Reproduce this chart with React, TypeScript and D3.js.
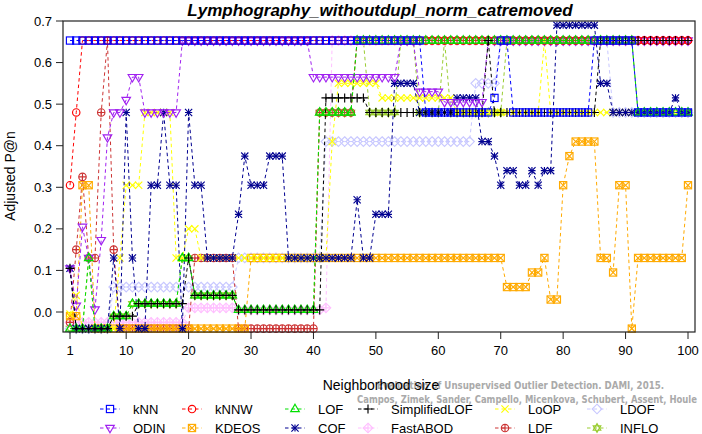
import React from 'react';
import * as d3 from 'd3';

// neighborhood sizes on the x axis
const ks = d3.range(1, 101);
const xTicks = [1, 10, 20, 30, 40, 50, 60, 70, 80, 90, 100];
const yTicks = [0, 0.1, 0.2, 0.3, 0.4, 0.5, 0.6, 0.7];

// Adjusted P@n per method, k = 1..100
const kNN = [
  0.653, 0.653, 0.653, 0.653, 0.653, 0.653, 0.653, 0.653, 0.653, 0.653,
  0.653, 0.653, 0.653, 0.653, 0.653, 0.653, 0.653, 0.653, 0.653, 0.653,
  0.653, 0.653, 0.653, 0.653, 0.653, 0.653, 0.653, 0.653, 0.653, 0.653,
  0.653, 0.653, 0.653, 0.653, 0.653, 0.653, 0.653, 0.653, 0.653, 0.653,
  0.653, 0.653, 0.653, 0.653, 0.653, 0.653, 0.653, 0.653, 0.653, 0.653,
  0.653, 0.653, 0.653, 0.653, 0.653, 0.653, 0.653, 0.48, 0.48, 0.48,
  0.48, 0.48, 0.48, 0.48, 0.48, 0.48, 0.48, 0.48, 0.515, 0.653,
  0.653, 0.48, 0.48, 0.48, 0.48, 0.48, 0.48, 0.48, 0.48, 0.48,
  0.48, 0.48, 0.48, 0.48, 0.653, 0.653, 0.653, 0.653, 0.653, 0.653,
  0.653, 0.48, 0.48, 0.48, 0.48, 0.48, 0.48, 0.48, 0.48, 0.48,
];
const kNNW = [
  0.305, 0.48, 0.653, 0.653, 0.653, 0.653, 0.653, 0.653, 0.653, 0.653,
  0.653, 0.653, 0.653, 0.653, 0.653, 0.653, 0.653, 0.653, 0.653, 0.653,
  0.653, 0.653, 0.653, 0.653, 0.653, 0.653, 0.653, 0.653, 0.653, 0.653,
  0.653, 0.653, 0.653, 0.653, 0.653, 0.653, 0.653, 0.653, 0.653, 0.653,
  0.653, 0.653, 0.653, 0.653, 0.653, 0.653, 0.653, 0.653, 0.653, 0.653,
  0.653, 0.653, 0.653, 0.653, 0.653, 0.653, 0.653, 0.653, 0.653, 0.653,
  0.653, 0.653, 0.653, 0.653, 0.653, 0.653, 0.653, 0.653, 0.653, 0.653,
  0.653, 0.653, 0.653, 0.653, 0.653, 0.653, 0.653, 0.653, 0.653, 0.653,
  0.653, 0.653, 0.653, 0.653, 0.653, 0.653, 0.653, 0.653, 0.653, 0.653,
  0.653, 0.653, 0.653, 0.653, 0.653, 0.653, 0.653, 0.653, 0.653, 0.653,
];
const LOF = [
  -0.04, -0.04, -0.04, 0.13, -0.04, -0.04, -0.04, -0.01, -0.01, -0.01,
  0.02, 0.02, 0.02, 0.02, 0.02, 0.02, 0.02, 0.02, 0.13, 0.13,
  0.04, 0.04, 0.04, 0.04, 0.04, 0.04, 0.04, 0.005, 0.005, 0.005,
  0.005, 0.005, 0.005, 0.005, 0.005, 0.005, 0.005, 0.005, 0.005, 0.005,
  0.48, 0.48, 0.48, 0.48, 0.48, 0.48, 0.653, 0.653, 0.653, 0.653,
  0.653, 0.653, 0.653, 0.653, 0.653, 0.653, 0.653, 0.653, 0.653, 0.653,
  0.653, 0.653, 0.653, 0.653, 0.653, 0.653, 0.653, 0.653, 0.653, 0.653,
  0.653, 0.653, 0.653, 0.653, 0.653, 0.653, 0.653, 0.653, 0.653, 0.653,
  0.653, 0.653, 0.653, 0.653, 0.653, 0.653, 0.653, 0.653, 0.653, 0.653,
  0.653, 0.48, 0.48, 0.48, 0.48, 0.48, 0.48, 0.48, 0.48, 0.48,
];
const SimplifiedLOF = [
  0.105, -0.04, -0.04, -0.04, -0.04, -0.04, -0.04, -0.01, -0.01, -0.01,
  -0.01, 0.02, 0.02, 0.02, 0.02, 0.02, 0.02, 0.02, 0.02, 0.13,
  0.04, 0.04, 0.04, 0.04, 0.04, 0.04, 0.04, 0.005, 0.005, 0.005,
  0.005, 0.005, 0.005, 0.005, 0.005, 0.005, 0.005, 0.005, 0.005, 0.005,
  0.005, 0.515, 0.515, 0.515, 0.515, 0.515, 0.515, 0.515, 0.48, 0.48,
  0.48, 0.48, 0.48, 0.48, 0.48, 0.48, 0.48, 0.48, 0.48, 0.48,
  0.48, 0.48, 0.48, 0.48, 0.48, 0.48, 0.48, 0.653, 0.48, 0.48,
  0.48, 0.48, 0.48, 0.48, 0.48, 0.48, 0.48, 0.48, 0.48, 0.48,
  0.48, 0.48, 0.48, 0.48, 0.48, 0.653, 0.653, 0.653, 0.653, 0.653,
  0.653, 0.653, 0.653, 0.653, 0.653, 0.653, 0.653, 0.653, 0.653, 0.653,
];
const LoOP = [
  -0.005, 0.04, -0.04, -0.04, -0.04, -0.04, -0.04, -0.04, 0.13, 0.305,
  0.305, 0.305, 0.48, 0.48, 0.48, 0.48, 0.48, 0.13, 0.13, 0.2,
  0.2, 0.13, 0.13, 0.13, 0.13, 0.13, 0.13, 0.13, 0.13, 0.13,
  0.13, 0.13, 0.13, 0.13, 0.13, 0.13, 0.13, 0.13, 0.13, 0.13,
  0.13, 0.13, 0.41, 0.55, 0.55, 0.55, 0.55, 0.55, 0.55, 0.55,
  0.515, 0.515, 0.515, 0.515, 0.515, 0.515, 0.515, 0.515, 0.515, 0.515,
  0.515, 0.515, 0.48, 0.48, 0.48, 0.48, 0.48, 0.48, 0.48, 0.48,
  0.48, 0.48, 0.48, 0.48, 0.48, 0.48, 0.653, 0.48, 0.48, 0.48,
  0.48, 0.48, 0.48, 0.48, 0.48, 0.48, 0.48, 0.48, 0.48, 0.48,
  0.48, 0.48, 0.48, 0.48, 0.48, 0.48, 0.48, 0.48, 0.48, 0.48,
];
const LDOF = [
  -0.04, -0.04, -0.04, -0.04, -0.04, -0.04, -0.04, 0.06, 0.06, 0.06,
  0.06, 0.06, 0.06, 0.06, 0.06, 0.06, 0.06, 0.06, 0.06, 0.06,
  0.06, 0.06, 0.06, 0.06, 0.06, 0.06, 0.06, 0.13, 0.13, 0.13,
  0.13, 0.13, 0.13, 0.13, 0.13, 0.13, 0.13, 0.13, 0.13, 0.13,
  0.13, 0.41, 0.41, 0.41, 0.41, 0.41, 0.41, 0.41, 0.41, 0.41,
  0.41, 0.41, 0.41, 0.41, 0.41, 0.41, 0.41, 0.41, 0.41, 0.41,
  0.41, 0.41, 0.41, 0.41, 0.41, 0.55, 0.55, 0.55, 0.55, 0.653,
  0.653, 0.653, 0.653, 0.653, 0.653, 0.653, 0.653, 0.653, 0.653, 0.653,
  0.653, 0.653, 0.653, 0.653, 0.653, 0.653, 0.653, 0.48, 0.48, 0.48,
  0.48, 0.48, 0.48, 0.48, 0.48, 0.48, 0.48, 0.48, 0.48, 0.48,
];
const ODIN = [
  0.105, 0.015, 0.205, 0.13, 0.006, 0.173, 0.42, 0.48, 0.48, 0.51,
  0.565, 0.565, 0.48, 0.48, 0.48, 0.48, 0.48, 0.48, 0.653, 0.653,
  0.653, 0.653, 0.653, 0.653, 0.653, 0.653, 0.653, 0.653, 0.653, 0.653,
  0.653, 0.653, 0.653, 0.653, 0.653, 0.653, 0.653, 0.653, 0.653, 0.565,
  0.565, 0.565, 0.565, 0.565, 0.565, 0.565, 0.565, 0.565, 0.565, 0.565,
  0.565, 0.565, 0.565, 0.653, 0.653, 0.653, 0.53, 0.53, 0.53, 0.53,
  0.505, 0.505, 0.505, 0.505, 0.505, 0.505, 0.505, 0.653, 0.653, 0.653,
  0.653, 0.653, 0.653, 0.653, 0.653, 0.653, 0.653, 0.653, 0.653, 0.653,
  0.653, 0.653, 0.653, 0.653, 0.653, 0.653, 0.653, 0.653, 0.653, 0.653,
  0.653, 0.653, 0.653, 0.653, 0.653, 0.653, 0.653, 0.653, 0.653, 0.653,
];
const KDEOS = [
  -0.01, -0.01, 0.305, 0.305, -0.04, -0.04, -0.04, -0.04, -0.04, -0.04,
  -0.04, -0.04, -0.04, -0.04, -0.04, -0.04, -0.04, -0.04, -0.04, -0.04,
  -0.04, -0.04, -0.04, -0.04, -0.04, -0.04, -0.04, -0.04, -0.04, 0.13,
  0.13, 0.13, 0.13, 0.13, 0.13, 0.13, 0.13, 0.13, 0.13, 0.13,
  0.13, 0.13, 0.13, 0.13, 0.13, 0.13, 0.13, 0.13, 0.13, 0.13,
  0.13, 0.13, 0.13, 0.13, 0.13, 0.13, 0.13, 0.13, 0.13, 0.13,
  0.13, 0.13, 0.13, 0.13, 0.13, 0.13, 0.13, 0.13, 0.13, 0.13,
  0.06, 0.06, 0.06, 0.06, 0.095, 0.095, 0.13, 0.03, 0.03, 0.305,
  0.375, 0.41, 0.41, 0.41, 0.41, 0.13, 0.13, 0.095, 0.305, 0.305,
  -0.04, 0.13, 0.13, 0.13, 0.13, 0.13, 0.13, 0.13, 0.13, 0.305,
];
const COF = [
  0.105, -0.04, -0.04, -0.04, -0.04, -0.04, -0.04, 0.13, -0.04, 0.48,
  0.13, -0.04, -0.04, 0.305, 0.305, 0.48, 0.305, 0.305, -0.04, 0.48,
  0.305, 0.305, 0.13, 0.13, 0.13, 0.13, 0.13, 0.235, 0.375, 0.305,
  0.305, 0.305, 0.375, 0.375, 0.375, 0.13, 0.13, 0.13, 0.13, 0.13,
  0.13, 0.13, 0.13, 0.13, 0.13, 0.13, 0.27, 0.13, 0.13, 0.235,
  0.235, 0.235, 0.55, 0.55, 0.55, 0.55, 0.48, 0.48, 0.48, 0.48,
  0.48, 0.48, 0.515, 0.515, 0.515, 0.515, 0.41, 0.41, 0.375, 0.305,
  0.34, 0.34, 0.305, 0.305, 0.34, 0.305, 0.34, 0.34, 0.69, 0.69,
  0.69, 0.69, 0.69, 0.69, 0.69, 0.55, 0.55, 0.48, 0.48, 0.48,
  0.48, 0.48, 0.48, 0.48, 0.48, 0.48, 0.48, 0.515, 0.48, 0.48,
];
const FastABOD = [
  -0.025, -0.025, -0.025, -0.025, -0.025, -0.025, -0.025, -0.025, -0.025, -0.025,
  -0.025, -0.025, -0.025, -0.025, -0.025, -0.025, -0.025, -0.025, -0.025, 0.01,
  0.01, 0.01, 0.01, 0.01, 0.01, 0.01, 0.01, 0.005, 0.005, 0.005,
  0.005, 0.005, 0.005, 0.005, 0.005, 0.005, 0.005, 0.005, 0.005, 0.005,
  0.005, 0.01, 0.653, 0.653, 0.653, 0.653, 0.653, 0.653, 0.653, 0.653,
  0.653, 0.653, 0.653, 0.653, 0.653, 0.653, 0.653, 0.653, 0.653, 0.653,
  0.653, 0.653, 0.653, 0.653, 0.653, 0.653, 0.653, 0.653, 0.653, 0.653,
  0.653, 0.653, 0.653, 0.653, 0.653, 0.653, 0.653, 0.653, 0.653, 0.653,
  0.653, 0.653, 0.653, 0.653, 0.653, 0.653, 0.653, 0.653, 0.653, 0.653,
  0.653, 0.653, 0.653, 0.653, 0.653, 0.653, 0.653, 0.653, 0.653, 0.653,
];
const LDF = [
  -0.025, 0.15, 0.325, 0.13, 0.13, 0.48, 0.653, 0.15, -0.04, -0.04,
  -0.04, -0.04, -0.04, -0.04, -0.04, -0.04, -0.04, -0.04, -0.04, -0.04,
  0.13, 0.13, 0.13, 0.13, 0.13, 0.13, 0.13, -0.04, -0.04, -0.04,
  -0.04, -0.04, -0.04, -0.04, -0.04, -0.04, -0.04, -0.04, -0.04, -0.04,
  0.48, 0.48, 0.48, 0.48, 0.48, 0.48, 0.653, 0.653, 0.653, 0.653,
  0.653, 0.653, 0.653, 0.653, 0.653, 0.653, 0.653, 0.653, 0.653, 0.653,
  0.653, 0.653, 0.653, 0.653, 0.653, 0.653, 0.653, 0.653, 0.653, 0.653,
  0.653, 0.653, 0.653, 0.653, 0.653, 0.653, 0.653, 0.653, 0.653, 0.653,
  0.653, 0.653, 0.653, 0.653, 0.653, 0.653, 0.653, 0.653, 0.653, 0.653,
  0.653, 0.653, 0.653, 0.653, 0.653, 0.653, 0.653, 0.653, 0.653, 0.653,
];
const INFLO = [
  -0.04, -0.04, -0.04, 0.13, -0.04, -0.04, -0.04, -0.01, -0.01, -0.01,
  0.02, 0.02, 0.02, 0.02, 0.02, 0.02, 0.02, 0.02, 0.13, 0.13,
  0.04, 0.04, 0.04, 0.04, 0.04, 0.04, 0.04, 0.005, 0.005, 0.005,
  0.005, 0.005, 0.005, 0.005, 0.005, 0.005, 0.005, 0.005, 0.005, 0.005,
  0.48, 0.48, 0.48, 0.48, 0.48, 0.48, 0.653, 0.653, 0.48, 0.48,
  0.48, 0.48, 0.48, 0.653, 0.653, 0.653, 0.48, 0.48, 0.48, 0.48,
  0.653, 0.48, 0.48, 0.48, 0.48, 0.48, 0.48, 0.48, 0.48, 0.48,
  0.653, 0.653, 0.653, 0.653, 0.653, 0.653, 0.653, 0.653, 0.653, 0.653,
  0.653, 0.653, 0.653, 0.653, 0.653, 0.653, 0.653, 0.653, 0.653, 0.653,
  0.653, 0.48, 0.48, 0.48, 0.48, 0.48, 0.48, 0.48, 0.48, 0.48,
];

interface Series {
  name: string;
  color: string;
  pch: number;
  values: number[];
}

const series: Series[] = [
  { name: 'kNN', color: '#0000ff', pch: 0, values: kNN },
  { name: 'kNNW', color: '#ff0000', pch: 1, values: kNNW },
  { name: 'LOF', color: '#00e000', pch: 2, values: LOF },
  { name: 'SimplifiedLOF', color: '#000000', pch: 3, values: SimplifiedLOF },
  { name: 'LoOP', color: '#ffff00', pch: 4, values: LoOP },
  { name: 'LDOF', color: '#c8c8ff', pch: 5, values: LDOF },
  { name: 'ODIN', color: '#a020f0', pch: 6, values: ODIN },
  { name: 'KDEOS', color: '#ffaa00', pch: 7, values: KDEOS },
  { name: 'COF', color: '#000090', pch: 8, values: COF },
  { name: 'FastABOD', color: '#ffc0ff', pch: 9, values: FastABOD },
  { name: 'LDF', color: '#cc3333', pch: 10, values: LDF },
  { name: 'INFLO', color: '#9acd32', pch: 11, values: INFLO },
];

// which method is painted over which
const drawOrder = ['INFLO', 'FastABOD', 'LDOF', 'LDF', 'KDEOS', 'LoOP', 'COF', 'ODIN', 'kNNW', 'LOF', 'SimplifiedLOF', 'kNN'];

const x = d3.scaleLinear().domain([1, 100]).range([70, 688]);
const y = d3.scaleLinear().domain([0, 0.7]).range([312, 21]);
const box = { left: 63, right: 695, top: 21, bottom: 332 };
const font = 'Liberation Sans, Arial, Helvetica, sans-serif';

const Marker: React.FC<{ pch: number; color: string }> = ({ pch, color }) => {
  const p = { fill: 'none', stroke: color, strokeWidth: 1.15 };
  const s = 3.6;
  const plus = <path {...p} d={`M${-s},0H${s}M0,${-s}V${s}`} />;
  const cross = <path {...p} d={`M${-s},${-s}L${s},${s}M${-s},${s}L${s},${-s}`} />;
  const diamond = <path {...p} d="M0,-4.8L4.8,0L0,4.8L-4.8,0Z" />;
  const circle = <circle {...p} r={3.7} />;
  const square = <rect {...p} x={-s} y={-s} width={2 * s} height={2 * s} />;
  const triUp = <path {...p} d="M0,-4.8L4.3,2.6L-4.3,2.6Z" />;
  const triDown = <path {...p} d="M0,4.8L4.3,-2.6L-4.3,-2.6Z" />;
  switch (pch) {
    case 0: return square;
    case 1: return circle;
    case 2: return triUp;
    case 3: return <path {...p} d="M-4.5,0H4.5M0,-4.5V4.5" />;
    case 4: return cross;
    case 5: return diamond;
    case 6: return triDown;
    case 7: return <g>{square}{cross}</g>;
    case 8: return <g>{plus}{cross}</g>;
    case 9: return <g>{diamond}<path {...p} d="M-4.8,0H4.8M0,-4.8V4.8" /></g>;
    case 10: return <g>{circle}<path {...p} d="M-3.7,0H3.7M0,-3.7V3.7" /></g>;
    default: return <g><path {...p} d="M0,-4.4L3.8,2.2L-3.8,2.2Z" /><path {...p} d="M0,4.4L3.8,-2.2L-3.8,-2.2Z" /></g>;
  }
};

const legendCols = [110, 192, 295, 368, 505, 597];
const legendRows = [409, 428];

export default function App() {
  const line = d3.line<number>().x((_, i) => x(ks[i])).y(v => y(v));
  const ordered = drawOrder.map(n => series.find(s => s.name === n)!);

  return (
    <svg width={702} height={434} style={{ position: 'absolute', left: 0, top: 0, background: '#fff' }} fontFamily={font}>
      <rect width={702} height={434} fill="#fff" />
      <text x={380} y={16} textAnchor="middle" fontSize={17} fontWeight="bold" fontStyle="italic">
        Lymphography_withoutdupl_norm_catremoved
      </text>

      {ordered.map(s => (
        <g key={s.name}>
          <path d={line(s.values) ?? ''} fill="none" stroke={s.color} strokeWidth={1} strokeDasharray="3.5,3" />
          {s.values.map((v, i) => (
            <g key={i} transform={`translate(${x(ks[i])},${y(v)})`}>
              <Marker pch={s.pch} color={s.color} />
            </g>
          ))}
        </g>
      ))}

      <rect x={box.left} y={box.top} width={box.right - box.left} height={box.bottom - box.top} fill="none" stroke="#222" strokeWidth={1.2} />

      {yTicks.map(t => (
        <g key={t} transform={`translate(0,${y(t)})`}>
          <line x1={box.left - 7} x2={box.left} stroke="#222" />
          <text x={box.left - 11} dy="0.35em" textAnchor="end" fontSize={13}>{t.toFixed(1)}</text>
        </g>
      ))}
      {xTicks.map(t => (
        <g key={t} transform={`translate(${x(t)},0)`}>
          <line y1={box.bottom} y2={box.bottom + 7} stroke="#222" />
          <text y={355} textAnchor="middle" fontSize={13}>{t}</text>
        </g>
      ))}

      <text transform="translate(15,176) rotate(-90)" textAnchor="middle" fontSize={14}>Adjusted P@n</text>

      <g fill="#aaaaaa" fontFamily="DejaVu Sans Condensed, DejaVu Sans, sans-serif" fontWeight="bold" fontSize={11}>
        <text x={664} y={389} textAnchor="end" textLength={287} lengthAdjust="spacingAndGlyphs">Evaluation of Unsupervised Outlier Detection. DAMI, 2015.</text>
        <text x={697} y={403} textAnchor="end" textLength={340} lengthAdjust="spacingAndGlyphs">Campos, Zimek, Sander, Campello, Micenkova, Schubert, Assent, Houle</text>
      </g>
      <text x={381} y={390} textAnchor="middle" fontSize={14}>Neighborhood size</text>

      {series.map((s, i) => {
        const cx = legendCols[i % 6];
        const cy = legendRows[Math.floor(i / 6)];
        return (
          <g key={s.name}>
            <line x1={cx - 10} x2={cx + 10} y1={cy} y2={cy} stroke={s.color} strokeDasharray="3.5,3" />
            <g transform={`translate(${cx},${cy})`}><Marker pch={s.pch} color={s.color} /></g>
            <text x={cx + 23} y={cy} dy="0.35em" fontSize={13}>{s.name}</text>
          </g>
        );
      })}
    </svg>
  );
}
